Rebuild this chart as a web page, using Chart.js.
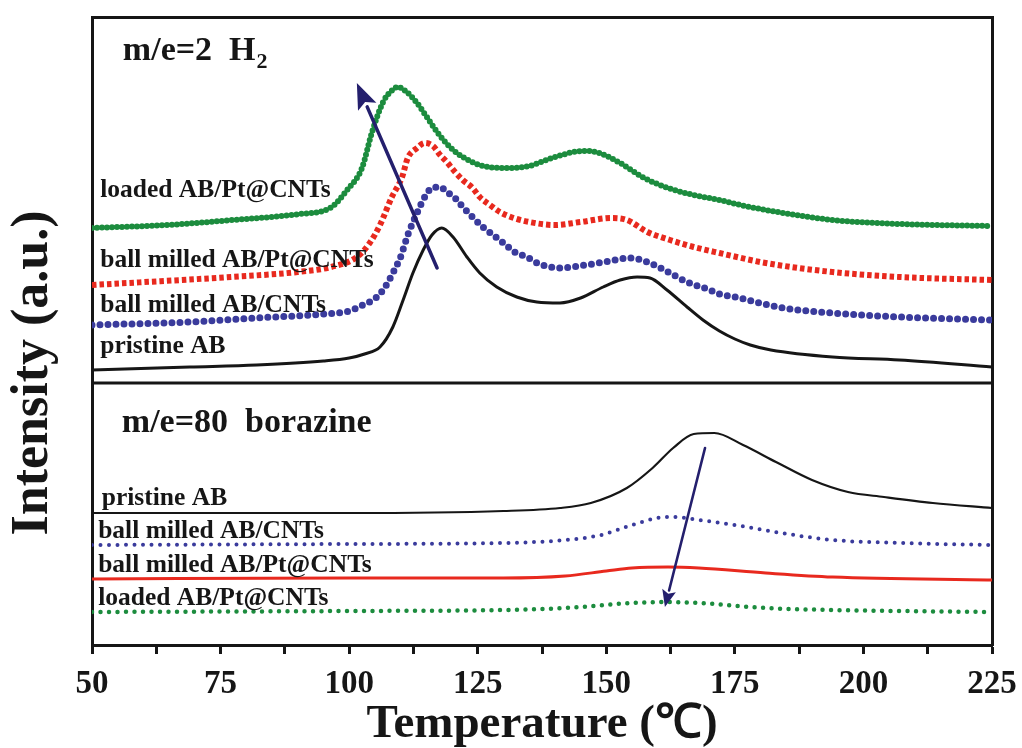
<!DOCTYPE html>
<html>
<head>
<meta charset="utf-8">
<script src="https://cdn.jsdelivr.net/npm/chart.js@4.4.1/dist/chart.umd.min.js"></script>
<style>
  html, body { margin: 0; padding: 0; background: #ffffff; }
  #wrap { width: 1022px; height: 748px; }
</style>
</head>
<body>
<div id="wrap"><canvas id="c" width="1022" height="748"></canvas></div>
<script>
// ---------- data (temperature in °C, intensity in a.u.) ----------
const X_TICK_LABELS = [50, 75, 100, 125, 150, 175, 200, 225];

// m/e = 2 (H2)
const H2_PRISTINE_T = [50,69,82,95,100,103,106,108.5,110.5,112.4,114.4,116.1,118,120.2,122.9,125.4,128.7,132.6,136.5,141,145,149.4,152.7,156,158.5,161.8,165.7,168.8,172,175,178,182,194,207,225];
const H2_PRISTINE_I = [275,278,280,284,287,291,298,318,345,372,395,410,417,408,388,372,358,348,343,342,347,358,365,368,367,355,338,325,314,306,300,295,288,285,278];

const H2_CNT_T = [50,69,82,95,100,102.7,105.4,107,108.5,110,111.4,113.2,114.7,116.1,117.7,119,120.6,122.1,124,126,128,130,132.2,134.6,137,141,146,150.7,154.6,158,162,165.7,169.6,172,175,184.4,194,207,225];
const H2_CNT_I = [320,323,327,331,334,340,348,358,372,388,410,432,448,457,458,453,447,438,428,418,410,402,393,388,381,377,380,384,387,383,373,363,356,351,348,337,332,328,325];

const H2_PT_T = [50,77,90,96.5,101.5,104,106,108.3,110.3,111.4,113.2,114.7,116.3,117.7,119,120.6,122.1,124,125.4,127.4,129.3,132,135,140,145,151,154,158,162.4,167,172,181,194,207,225];
const H2_PT_I = [360,368,373,378,388,402,420,448,468,487,497,502,499,490,483,473,465,457,448,440,433,427,423,420,423,427,425,413,405,398,392,382,373,368,365];

const H2_LOADED_T = [50,64.6,77.4,90.4,96.3,99.6,102.5,104.4,106.6,108,109.5,111.2,113.2,115.1,117.1,119.6,122.1,125.4,130,135,140,145.5,148,152.7,157,162,167,172,177,184.4,194,207,225];
const H2_LOADED_I = [417,420,425,431,437,455,477,512,543,553,558,553,542,528,513,498,488,480,477,479,488,494,493,482,468,457,450,445,439,432,425,421,419];

// m/e = 80 (borazine)
const BZ_PRISTINE_T = [50,100,130,141,147,154,159,163,167,171,176.6,183,190,197,204,213.5,225];
const BZ_PRISTINE_I = [132,132,134,137,142,157,177,197,211,212,200,183,165,153,148,142,137];

const BZ_CNT_T = [50,100,130,142,149,155,160,163,168,175,184,194,207,225];
const BZ_CNT_I = [100,101,102,105,110,120,127,128,125,120,112,105,102,100];

const BZ_PT_T = [50,100,130,142,150,155,162,168,181,194,225];
const BZ_PT_I = [66,67,67,69,74,77,78,77,72,68,65];

const BZ_LOADED_T = [50,100,130,142,155,162,168,181,194,225];
const BZ_LOADED_I = [33,34,35,37,42,43,42,37,35,33];

// panel divider level (a.u.)
const PANEL_SPLIT_T = [50, 225];
const PANEL_SPLIT_I = [262, 262];

// ---------- helpers ----------
const SERIF = '"Liberation Serif", "Times New Roman", serif';
const INK = '#161616';
const BLUE = '#3a3b9c';
const RED = '#e8291e';
const GREEN = '#1c8c3e';
const ARROW = '#241f6d';

function pts(T, I) { return T.map((t, i) => ({ x: t, y: I[i] })); }

function series(label, T, I, style) {
  return Object.assign({
    label: label,
    data: pts(T, I),
    showLine: true,
    pointRadius: 0,
    pointHoverRadius: 0,
    fill: false,
    cubicInterpolationMode: 'monotone',
    borderJoinStyle: 'round'
  }, style);
}

const datasets = [
  series('divider', PANEL_SPLIT_T, PANEL_SPLIT_I, { borderColor: INK, borderWidth: 3, cubicInterpolationMode: 'default', tension: 0 }),
  // H2 panel
  series('loaded AB/Pt@CNTs (H2)', H2_LOADED_T, H2_LOADED_I, { borderColor: GREEN, borderWidth: 6, borderDash: [0, 5], borderCapStyle: 'round' }),
  series('ball milled AB/Pt@CNTs (H2)', H2_PT_T, H2_PT_I, { borderColor: RED, borderWidth: 6, borderDash: [4.5, 3], borderCapStyle: 'butt' }),
  series('ball milled AB/CNTs (H2)', H2_CNT_T, H2_CNT_I, { borderColor: BLUE, borderWidth: 7, borderDash: [0, 8], borderCapStyle: 'round' }),
  series('pristine AB (H2)', H2_PRISTINE_T, H2_PRISTINE_I, { borderColor: INK, borderWidth: 3 }),
  // borazine panel
  series('pristine AB (borazine)', BZ_PRISTINE_T, BZ_PRISTINE_I, { borderColor: INK, borderWidth: 2.2 }),
  series('ball milled AB/CNTs (borazine)', BZ_CNT_T, BZ_CNT_I, { borderColor: BLUE, borderWidth: 4, borderDash: [0, 8.5], borderCapStyle: 'round' }),
  series('ball milled AB/Pt@CNTs (borazine)', BZ_PT_T, BZ_PT_I, { borderColor: RED, borderWidth: 3 }),
  series('loaded AB/Pt@CNTs (borazine)', BZ_LOADED_T, BZ_LOADED_I, { borderColor: GREEN, borderWidth: 4.5, borderDash: [0, 8.5], borderCapStyle: 'round' })
];

// annotation texts, anchored in data coordinates
const PANEL_TITLES = [
  { t: 56.0, v: 585, text: 'm/e=2  H', sub: '2' },
  { t: 55.8, v: 213, text: 'm/e=80  borazine' }
];
const CURVE_LABELS = [
  { t: 51.6, v: 448, text: 'loaded AB/Pt@CNTs' },
  { t: 51.6, v: 378, text: 'ball milled AB/Pt@CNTs' },
  { t: 51.6, v: 333, text: 'ball milled AB/CNTs' },
  { t: 51.6, v: 292, text: 'pristine AB' },
  { t: 51.9, v: 140, text: 'pristine AB' },
  { t: 51.2, v: 107, text: 'ball milled AB/CNTs' },
  { t: 51.2, v: 73, text: 'ball milled AB/Pt@CNTs' },
  { t: 51.2, v: 40, text: 'loaded AB/Pt@CNTs' }
];
const ARROWS = [
  { t1: 117.1, v1: 377, t2: 101.5, v2: 562, w: 3.5, head: 26, hw: 10 },
  { t1: 169.2, v1: 197, t2: 161.4, v2: 38, w: 2.6, head: 17, hw: 7 }
];

function drawArrow(ctx, x1, y1, x2, y2, w, head, hw) {
  const ang = Math.atan2(y2 - y1, x2 - x1);
  const bx = x2 - head * Math.cos(ang), by = y2 - head * Math.sin(ang);
  ctx.strokeStyle = ARROW; ctx.fillStyle = ARROW; ctx.lineWidth = w; ctx.lineCap = 'round';
  ctx.beginPath(); ctx.moveTo(x1, y1); ctx.lineTo(bx, by); ctx.stroke();
  ctx.beginPath();
  ctx.moveTo(x2, y2);
  ctx.lineTo(bx + hw * Math.sin(ang), by - hw * Math.cos(ang));
  ctx.lineTo(x2 - head * 0.8 * Math.cos(ang), y2 - head * 0.8 * Math.sin(ang));
  ctx.lineTo(bx - hw * Math.sin(ang), by + hw * Math.cos(ang));
  ctx.closePath(); ctx.fill();
}

const annotations = {
  id: 'annotations',
  afterDatasetsDraw(chart) {
    const { ctx } = chart;
    const xs = chart.scales.x, ys = chart.scales.y;
    ctx.save();
    ctx.fillStyle = INK;
    ctx.textAlign = 'left';
    ctx.textBaseline = 'alphabetic';
    PANEL_TITLES.forEach(p => {
      const px = xs.getPixelForValue(p.t), py = ys.getPixelForValue(p.v);
      ctx.font = 'bold 34px ' + SERIF;
      ctx.fillText(p.text, px, py);
      if (p.sub) {
        const w = ctx.measureText(p.text).width;
        ctx.font = 'bold 22px ' + SERIF;
        ctx.fillText(p.sub, px + w + 1, py + 8);
      }
    });
    ctx.font = 'bold 25.5px ' + SERIF;
    CURVE_LABELS.forEach(l => {
      ctx.fillText(l.text, xs.getPixelForValue(l.t), ys.getPixelForValue(l.v));
    });
    ARROWS.forEach(a => {
      drawArrow(ctx, xs.getPixelForValue(a.t1), ys.getPixelForValue(a.v1),
                xs.getPixelForValue(a.t2), ys.getPixelForValue(a.v2), a.w, a.head, a.hw);
    });
    // y-axis title
    const area = chart.chartArea;
    ctx.translate(47, (area.top + area.bottom) / 2 + 42);
    ctx.rotate(-Math.PI / 2);
    ctx.textAlign = 'center';
    ctx.font = 'bold 52px ' + SERIF;
    ctx.fillStyle = INK;
    ctx.fillText('Intensity (a.u.)', 0, 0);
    ctx.restore();
  }
};

const frame = { display: true, color: INK, width: 3 };

new Chart(document.getElementById('c'), {
  type: 'scatter',
  data: { datasets: datasets },
  options: {
    responsive: false,
    animation: false,
    events: [],
    layout: { padding: 0 },
    plugins: { legend: { display: false }, tooltip: { enabled: false }, title: { display: false } },
    scales: {
      x: {
        type: 'linear', position: 'bottom', min: 50, max: 225,
        ticks: {
          stepSize: 12.5, autoSkip: false, maxRotation: 0, padding: 3, color: INK,
          font: { family: SERIF, size: 33, weight: 'bold', lineHeight: 1.65 },
          callback: v => (X_TICK_LABELS.includes(v) ? String(v) : '')
        },
        grid: { display: true, drawOnChartArea: false, drawTicks: true, tickLength: 9, tickWidth: 3, tickColor: INK },
        border: frame,
        title: { display: true, text: 'Temperature (℃)', color: INK, font: { family: SERIF, size: 47, weight: 'bold', lineHeight: 1.0 }, padding: 0 },
        afterFit: s => { s.height = 103; }
      },
      xTop: {
        type: 'linear', position: 'top', min: 50, max: 225,
        ticks: { display: false }, grid: { display: false }, border: frame,
        afterFit: s => { s.height = 17; }
      },
      y: {
        type: 'linear', position: 'left', min: 0, max: 628,
        ticks: { display: false }, grid: { display: false }, border: frame,
        afterFit: s => { s.width = 92; }
      },
      yRight: {
        type: 'linear', position: 'right', min: 0, max: 628,
        ticks: { display: false }, grid: { display: false }, border: frame,
        afterFit: s => { s.width = 30; }
      }
    }
  },
  plugins: [annotations]
});
</script>
</body>
</html>
